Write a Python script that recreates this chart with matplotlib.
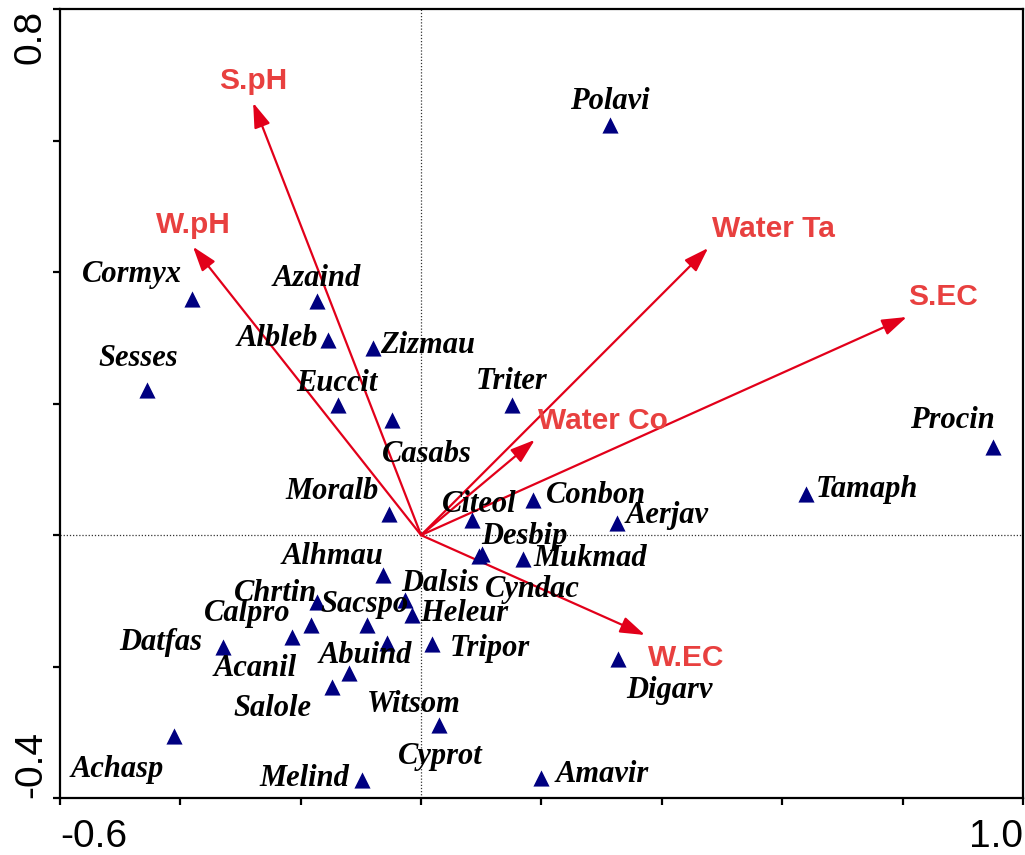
import numpy as np
import matplotlib
matplotlib.use("Agg")
import matplotlib.pyplot as plt

# species scores (axis 1, axis 2)
species = ["Polavi", "Cormyx", "Azaind", "Albleb", "Zizmau", "Sesses", "Euccit",
           "Triter", "Casabs", "Procin", "Tamaph", "Moralb", "Citeol", "Conbon",
           "Aerjav", "Desbip", "Cyndac", "Mukmad", "Alhmau", "Dalsis", "Heleur",
           "Chrtin", "Sacspo", "Calpro", "Acanil", "Datfas", "Abuind", "Tripor",
           "Salole", "Witsom", "Cyprot", "Melind", "Amavir", "Digarv", "Achasp"]
sp_x = [0.314, -0.381, -0.173, -0.155, -0.080, -0.455, -0.138,
        0.151, -0.048, 0.950, 0.640, -0.053, 0.085, 0.186,
        0.325, 0.096, 0.101, 0.169, -0.063, -0.027, -0.015,
        -0.173, -0.090, -0.183, -0.215, -0.329, -0.057, 0.018,
        -0.148, -0.120, 0.030, -0.098, 0.199, 0.327, -0.411]
sp_y = [0.624, 0.359, 0.356, 0.297, 0.285, 0.221, 0.198,
        0.198, 0.175, 0.134, 0.063, 0.032, 0.023, 0.054,
        0.019, -0.032, -0.029, -0.036, -0.061, -0.099, -0.122,
        -0.102, -0.137, -0.137, -0.155, -0.170, -0.164, -0.166,
        -0.231, -0.210, -0.289, -0.373, -0.370, -0.188, -0.306]

# environmental variable arrows
env = ["S.pH", "W.pH", "Water Ta", "Water Co", "S.EC", "W.EC"]
env_x = [-0.279, -0.379, 0.477, 0.189, 0.807, 0.372]
env_y = [0.658, 0.439, 0.437, 0.145, 0.332, -0.152]

# label offsets in pixels (layout only)
sp_off = [(0, 24), (-60, 25), (0, 23), (-51, 1), (55, 2), (-9, 31), (-1, 22),
          (0, 24), (35, -34), (-40, 27), (61, 4), (-57, 23), (7, 16), (63, 4),
          (50, 7), (46, 20), (51, -35), (67, 0), (-51, 19), (35, 17), (52, 2),
          (-41, 9), (-2, 21), (-64, 12), (-37, -32), (-62, 4), (-22, -13), (58, -4),
          (-60, -22), (65, -31), (1, -31), (-58, 2), (61, 4), (52, -32), (-57, -33)]
env_off = [(0, 22), (0, 22), (65, 19), (68, 19), (36, 20), (41, -23)]

arrow_col = "#E2001A"
label_col = "#E8403F"
navy = "#000080"

fig = plt.figure(figsize=(10.25, 8.55), dpi=100)
ax = fig.add_axes([0.0585, 0.0667, 0.9395, 0.9222])
ax.set_xlim(-0.6, 1.0)
ax.set_ylim(-0.4, 0.8)

ax.axhline(0, color="#333333", lw=0.9, ls=(0, (1, 1.5)), zorder=1)
ax.axvline(0, color="#333333", lw=0.9, ls=(0, (1, 1.5)), zorder=1)

for name, x, y, off in zip(env, env_x, env_y, env_off):
    ax.annotate("", xy=(x, y), xytext=(0, 0),
                arrowprops=dict(arrowstyle="-|>,head_length=0.75,head_width=0.25",
                                color=arrow_col, lw=1.6, mutation_scale=20,
                                shrinkA=0, shrinkB=0), zorder=2)
    ax.annotate(name, xy=(x, y), xytext=off, textcoords="offset pixels",
                ha="center", va="center", color=label_col, fontsize=21.5,
                fontweight="bold", family="Liberation Sans", zorder=4)

ax.scatter(sp_x, sp_y, marker="^", s=135, color=navy, linewidths=0, zorder=3)
for name, x, y, off in zip(species, sp_x, sp_y, sp_off):
    ax.annotate(name, xy=(x, y), xytext=off, textcoords="offset pixels",
                ha="center", va="center", color="black", fontsize=22,
                fontweight="bold", fontstyle="italic", family="Liberation Serif",
                zorder=4)

for s in ax.spines.values():
    s.set_linewidth(1.6)

xt = np.round(np.arange(-0.6, 1.01, 0.2), 1)
yt = np.round(np.arange(-0.4, 0.81, 0.2), 1)
ax.set_xticks(xt)
ax.set_yticks(yt)
ax.set_xticklabels(["-0.6"] + [""] * (len(xt) - 2) + ["1.0"],
                   family="Liberation Sans", fontsize=28)
ax.set_yticklabels(["-0.4"] + [""] * (len(yt) - 2) + ["0.8"],
                   family="Liberation Sans", fontsize=28, rotation=90)
ax.tick_params(direction="out", length=5, width=1.6)
ax.tick_params(axis="x", pad=10)
ax.tick_params(axis="y", pad=3)
xl = ax.get_xticklabels()
xl[0].set_ha("left")
xl[-1].set_ha("right")
yl = ax.get_yticklabels()
yl[0].set_va("bottom")
yl[-1].set_va("top")

fig.savefig("out.png", dpi=100)
